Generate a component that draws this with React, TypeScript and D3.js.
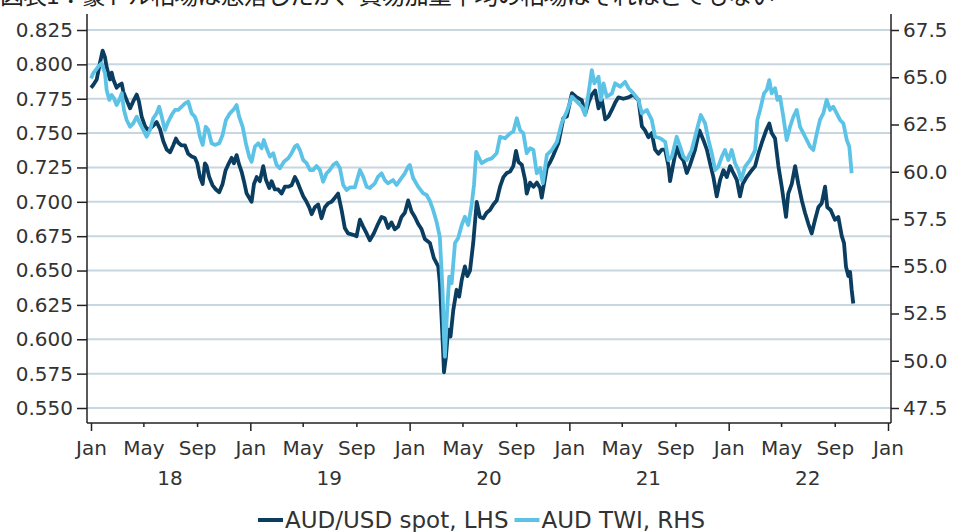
import React, { useEffect, useRef } from "react";
import * as d3 from "d3";

// chart text
const title = "図表1：豪ドル相場は急落したが、貿易加重平均の相場はそれほどでもない";
const seriesNames = ["AUD/USD spot, LHS", "AUD TWI, RHS"];
const yearLabels = [2018, 2019, 2020, 2021, 2022];
const leftTicks = [0.55, 0.575, 0.6, 0.625, 0.65, 0.675, 0.7, 0.725, 0.75, 0.775, 0.8, 0.825];
const rightTicks = [47.5, 50, 52.5, 55, 57.5, 60, 62.5, 65, 67.5];

// [years since 1 Jan 2018, value]
const audUsd: [number, number][] = [
  [0.000,0.783],[0.014,0.785],[0.036,0.789],[0.056,0.801],[0.073,0.810],[0.088,0.805],[0.098,0.798],[0.119,0.789],
  [0.130,0.794],[0.140,0.789],[0.161,0.783],[0.178,0.785],[0.193,0.786],[0.203,0.780],[0.224,0.774],[0.245,0.768],
  [0.265,0.773],[0.287,0.778],[0.301,0.773],[0.318,0.762],[0.339,0.755],[0.359,0.752],[0.387,0.755],[0.412,0.758],
  [0.433,0.753],[0.454,0.744],[0.475,0.738],[0.496,0.736],[0.516,0.741],[0.533,0.746],[0.548,0.743],[0.569,0.741],
  [0.590,0.741],[0.610,0.735],[0.632,0.733],[0.652,0.732],[0.667,0.728],[0.684,0.718],[0.701,0.713],[0.715,0.728],
  [0.726,0.726],[0.742,0.718],[0.763,0.712],[0.784,0.709],[0.805,0.707],[0.826,0.713],[0.845,0.723],[0.861,0.727],
  [0.883,0.732],[0.897,0.728],[0.914,0.734],[0.930,0.727],[0.945,0.722],[0.960,0.715],[0.977,0.706],[0.993,0.703],
  [1.008,0.700],[1.023,0.713],[1.040,0.718],[1.060,0.715],[1.081,0.726],[1.098,0.716],[1.119,0.710],[1.134,0.715],
  [1.154,0.709],[1.175,0.709],[1.196,0.706],[1.217,0.711],[1.238,0.711],[1.259,0.712],[1.280,0.718],[1.294,0.715],
  [1.311,0.710],[1.332,0.704],[1.353,0.700],[1.370,0.696],[1.385,0.691],[1.405,0.696],[1.426,0.698],[1.447,0.688],
  [1.468,0.696],[1.489,0.699],[1.510,0.700],[1.531,0.703],[1.551,0.706],[1.573,0.694],[1.593,0.681],[1.614,0.677],
  [1.646,0.676],[1.667,0.675],[1.688,0.687],[1.708,0.682],[1.730,0.677],[1.750,0.672],[1.775,0.677],[1.802,0.684],
  [1.824,0.689],[1.844,0.688],[1.865,0.681],[1.886,0.685],[1.907,0.680],[1.928,0.682],[1.949,0.689],[1.970,0.692],
  [1.991,0.701],[2.012,0.693],[2.033,0.689],[2.053,0.684],[2.075,0.680],[2.095,0.673],[2.127,0.670],[2.152,0.659],
  [2.179,0.653],[2.189,0.641],[2.200,0.616],[2.210,0.590],[2.215,0.576],[2.227,0.587],[2.241,0.607],[2.256,0.602],
  [2.273,0.621],[2.294,0.636],[2.310,0.631],[2.326,0.643],[2.346,0.653],[2.361,0.646],[2.378,0.650],[2.398,0.670],
  [2.420,0.700],[2.440,0.689],[2.461,0.688],[2.482,0.692],[2.503,0.694],[2.524,0.698],[2.545,0.701],[2.566,0.711],
  [2.587,0.718],[2.608,0.721],[2.629,0.722],[2.649,0.726],[2.666,0.737],[2.681,0.729],[2.702,0.727],[2.723,0.716],
  [2.733,0.706],[2.754,0.714],[2.775,0.711],[2.796,0.714],[2.817,0.710],[2.827,0.703],[2.859,0.725],[2.880,0.729],
  [2.900,0.734],[2.932,0.743],[2.963,0.761],[2.984,0.762],[3.016,0.779],[3.047,0.776],[3.078,0.774],[3.099,0.764],
  [3.120,0.772],[3.141,0.778],[3.162,0.781],[3.183,0.768],[3.204,0.774],[3.225,0.760],[3.245,0.762],[3.267,0.767],
  [3.287,0.772],[3.308,0.776],[3.339,0.775],[3.371,0.776],[3.402,0.778],[3.434,0.774],[3.455,0.755],[3.475,0.752],
  [3.496,0.747],[3.517,0.750],[3.538,0.738],[3.559,0.735],[3.580,0.738],[3.601,0.738],[3.622,0.726],[3.632,0.715],
  [3.653,0.728],[3.674,0.740],[3.695,0.733],[3.716,0.730],[3.737,0.721],[3.758,0.727],[3.789,0.738],[3.816,0.752],
  [3.841,0.745],[3.863,0.738],[3.883,0.728],[3.904,0.718],[3.925,0.704],[3.946,0.716],[3.967,0.723],[3.988,0.718],
  [4.009,0.726],[4.029,0.721],[4.051,0.716],[4.071,0.704],[4.088,0.713],[4.113,0.718],[4.145,0.723],[4.166,0.726],
  [4.186,0.735],[4.208,0.743],[4.235,0.752],[4.255,0.757],[4.270,0.750],[4.291,0.746],[4.312,0.726],[4.333,0.711],
  [4.360,0.689],[4.374,0.706],[4.396,0.713],[4.417,0.726],[4.437,0.713],[4.459,0.701],[4.479,0.692],[4.500,0.684],
  [4.521,0.677],[4.542,0.687],[4.563,0.696],[4.584,0.699],[4.605,0.711],[4.619,0.696],[4.640,0.694],[4.667,0.687],
  [4.688,0.689],[4.710,0.675],[4.724,0.670],[4.736,0.653],[4.751,0.646],[4.762,0.649],[4.772,0.636],[4.782,0.626]
];

const audTwi: [number, number][] = [
  [0.000,64.94],[0.014,65.21],[0.046,65.56],[0.067,65.74],[0.088,65.21],[0.098,64.33],[0.115,63.80],[0.130,64.06],
  [0.144,63.89],[0.161,63.53],[0.178,63.80],[0.193,64.15],[0.207,63.27],[0.224,62.74],[0.245,62.38],[0.265,62.56],
  [0.287,62.91],[0.307,62.56],[0.328,62.21],[0.349,61.85],[0.370,62.21],[0.391,62.83],[0.412,63.09],[0.428,63.44],
  [0.444,62.91],[0.464,62.21],[0.485,62.65],[0.506,63.00],[0.527,63.27],[0.548,63.27],[0.569,63.44],[0.590,63.62],
  [0.610,63.71],[0.632,63.09],[0.652,62.91],[0.667,62.56],[0.684,61.85],[0.701,61.42],[0.720,62.38],[0.736,62.21],
  [0.757,61.51],[0.778,61.42],[0.805,61.51],[0.826,61.94],[0.847,62.74],[0.872,63.09],[0.893,63.27],[0.914,63.53],
  [0.930,62.91],[0.952,62.38],[0.972,61.51],[0.993,60.80],[1.008,60.53],[1.029,61.33],[1.050,61.51],[1.071,61.24],
  [1.085,61.68],[1.102,61.24],[1.123,60.80],[1.144,60.98],[1.165,60.36],[1.186,60.18],[1.211,60.53],[1.238,60.71],
  [1.259,60.98],[1.280,61.33],[1.294,61.42],[1.311,61.15],[1.332,60.62],[1.353,60.46],[1.374,60.09],[1.395,60.09],
  [1.416,60.30],[1.437,60.09],[1.457,59.47],[1.479,59.92],[1.499,60.09],[1.520,60.36],[1.541,60.49],[1.562,60.20],
  [1.583,59.30],[1.604,59.03],[1.625,59.17],[1.656,59.17],[1.688,60.09],[1.708,59.74],[1.730,59.21],[1.750,59.14],
  [1.782,59.39],[1.802,59.74],[1.824,59.92],[1.844,59.56],[1.865,59.39],[1.896,59.56],[1.918,59.30],[1.939,59.56],
  [1.970,59.92],[1.991,60.27],[2.001,60.36],[2.022,59.67],[2.053,59.21],[2.085,58.86],[2.106,58.77],[2.127,58.45],
  [2.147,57.98],[2.169,57.34],[2.189,56.55],[2.206,53.74],[2.215,51.27],[2.221,50.21],[2.235,52.69],[2.248,54.45],
  [2.263,54.10],[2.284,56.23],[2.304,56.49],[2.326,57.18],[2.346,57.62],[2.367,57.18],[2.388,58.24],[2.403,59.30],
  [2.417,61.05],[2.430,60.80],[2.451,60.45],[2.482,60.62],[2.514,60.71],[2.545,60.98],[2.566,61.85],[2.597,61.77],
  [2.629,62.03],[2.649,62.12],[2.671,62.83],[2.691,62.21],[2.712,62.03],[2.733,60.98],[2.754,61.24],[2.775,61.15],
  [2.796,59.92],[2.817,60.20],[2.834,59.39],[2.859,60.89],[2.890,61.15],[2.922,61.59],[2.953,62.61],[2.984,63.18],
  [3.016,63.97],[3.047,63.71],[3.078,63.44],[3.099,63.00],[3.120,64.15],[3.141,65.38],[3.157,64.68],[3.183,65.03],
  [3.198,63.80],[3.214,64.68],[3.235,63.97],[3.267,64.15],[3.287,64.68],[3.319,64.50],[3.350,64.76],[3.371,64.42],
  [3.402,64.15],[3.434,63.80],[3.455,63.09],[3.486,63.27],[3.517,62.74],[3.538,61.85],[3.570,61.77],[3.601,61.59],
  [3.622,60.62],[3.643,60.80],[3.674,61.85],[3.695,61.33],[3.716,60.80],[3.737,60.62],[3.768,61.15],[3.800,62.21],
  [3.825,63.00],[3.852,62.56],[3.873,61.68],[3.894,60.98],[3.915,60.09],[3.935,60.27],[3.957,60.80],[3.977,61.15],
  [3.998,60.62],[4.019,61.15],[4.040,60.45],[4.061,60.09],[4.078,59.56],[4.103,60.27],[4.134,60.62],[4.166,61.15],
  [4.180,62.74],[4.197,63.27],[4.222,64.15],[4.239,64.33],[4.255,64.85],[4.270,64.15],[4.291,64.42],[4.306,63.80],
  [4.322,63.97],[4.343,62.91],[4.364,61.68],[4.385,62.38],[4.406,62.91],[4.427,63.27],[4.448,62.38],[4.469,62.03],
  [4.490,61.68],[4.511,61.33],[4.531,61.15],[4.553,62.03],[4.573,62.74],[4.594,63.09],[4.615,63.80],[4.636,63.27],
  [4.657,63.44],[4.678,63.09],[4.699,62.74],[4.720,62.56],[4.741,61.68],[4.757,61.33],[4.772,59.92]
];

const darkBlue = "#0a3d5f";
const lightBlue = "#5cc3e6";
const font = "'DejaVu Sans', Verdana, sans-serif";

function toDate(t: number) {
  const y = 2018 + Math.floor(t);
  const a = new Date(y, 0, 1).getTime();
  const b = new Date(y + 1, 0, 1).getTime();
  return new Date(a + (t - Math.floor(t)) * (b - a));
}

export default function App() {
  const ref = useRef<SVGSVGElement>(null);

  useEffect(() => {
    const svg = d3.select(ref.current);
    svg.selectAll("*").remove();

    const left = 87, right = 891, axisY = 423;
    const x = d3.scaleTime()
      .domain([new Date(2018, 0, 1), new Date(2023, 0, 1)])
      .range([91, 888]);
    const yL = d3.scaleLinear().domain([0.55, 0.825]).range([408, 30]);
    const yR = d3.scaleLinear().domain([47.5, 67.5]).range([408, 30]);

    // title, cut off at the top like the source
    svg.append("text")
      .attr("x", 0).attr("y", 4)
      .attr("font-family", "'Noto Sans CJK JP', sans-serif")
      .attr("font-size", 24)
      .attr("textLength", 775)
      .attr("fill", "#222")
      .text(title);

    // gridlines
    svg.append("g").selectAll("line")
      .data(leftTicks)
      .enter().append("line")
      .attr("x1", left).attr("x2", right)
      .attr("y1", d => yL(d)).attr("y2", d => yL(d))
      .attr("stroke", "#c8d6df")
      .attr("stroke-width", 2);

    // lines
    const lineL = d3.line<[number, number]>()
      .x(d => x(toDate(d[0])))
      .y(d => yL(d[1]));
    const lineR = d3.line<[number, number]>()
      .x(d => x(toDate(d[0])))
      .y(d => yR(d[1]));
    svg.append("path")
      .datum(audUsd)
      .attr("d", lineL)
      .attr("fill", "none")
      .attr("stroke", darkBlue)
      .attr("stroke-width", 3.8)
      .attr("stroke-linejoin", "round");
    svg.append("path")
      .datum(audTwi)
      .attr("d", lineR)
      .attr("fill", "none")
      .attr("stroke", lightBlue)
      .attr("stroke-width", 3.8)
      .attr("stroke-linejoin", "round");

    // axes
    const styleAxis = (g: any) => {
      g.select(".domain").remove();
      g.attr("font-family", font).attr("font-size", 20);
      g.selectAll(".tick line").attr("stroke", "#222").attr("stroke-width", 1.5);
      g.selectAll(".tick text").attr("fill", "#333");
    };
    svg.append("g")
      .attr("transform", "translate(" + left + ",0)")
      .call(d3.axisLeft(yL).tickValues(leftTicks).tickSize(10).tickPadding(4)
        .tickFormat(d3.format(".3f")) as any)
      .call(styleAxis);
    svg.append("g")
      .attr("transform", "translate(" + right + ",0)")
      .call(d3.axisRight(yR).tickValues(rightTicks).tickSize(8).tickPadding(4)
        .tickFormat(d3.format(".1f")) as any)
      .call(styleAxis);
    const xAxis = svg.append("g")
      .attr("transform", "translate(0," + axisY + ")")
      .call(d3.axisBottom(x).ticks(d3.timeMonth.every(4) as any).tickSize(8).tickPadding(10)
        .tickFormat(d3.timeFormat("%b") as any) as any)
      .call(styleAxis);
    xAxis.selectAll(".tick line")
      .attr("y2", (d: any) => (d.getMonth() === 0 ? 8 : 4));

    // year labels
    svg.append("g").selectAll("text")
      .data(yearLabels)
      .enter().append("text")
      .attr("x", d => x(new Date(d, 6, 1)))
      .attr("y", 485)
      .attr("text-anchor", "middle")
      .attr("font-family", font)
      .attr("font-size", 20)
      .attr("fill", "#333")
      .text(d => String(d).slice(2));

    // axis frame
    const frame = svg.append("g").attr("stroke", "#222").attr("stroke-width", 1.5);
    frame.append("line").attr("x1", left).attr("x2", left).attr("y1", 14).attr("y2", axisY);
    frame.append("line").attr("x1", right).attr("x2", right).attr("y1", 14).attr("y2", axisY);
    frame.append("line").attr("x1", left).attr("x2", right).attr("y1", axisY).attr("y2", axisY);

    // legend
    const legend = svg.append("g");
    let lx = 258;
    [darkBlue, lightBlue].forEach((c, i) => {
      legend.append("rect")
        .attr("x", lx).attr("y", 518)
        .attr("width", 25).attr("height", 4)
        .attr("fill", c);
      const t = legend.append("text")
        .attr("x", lx + 27).attr("y", 528)
        .attr("font-family", font)
        .attr("font-size", 23)
        .attr("fill", "#333")
        .text(seriesNames[i]);
      lx += 27 + (t.node() as SVGTextElement).getComputedTextLength() + 6;
    });
  }, []);

  return (
    <svg ref={ref} width={957} height={532}
      style={{ position: "absolute", left: 0, top: 0, background: "#fff" }} />
  );
}
